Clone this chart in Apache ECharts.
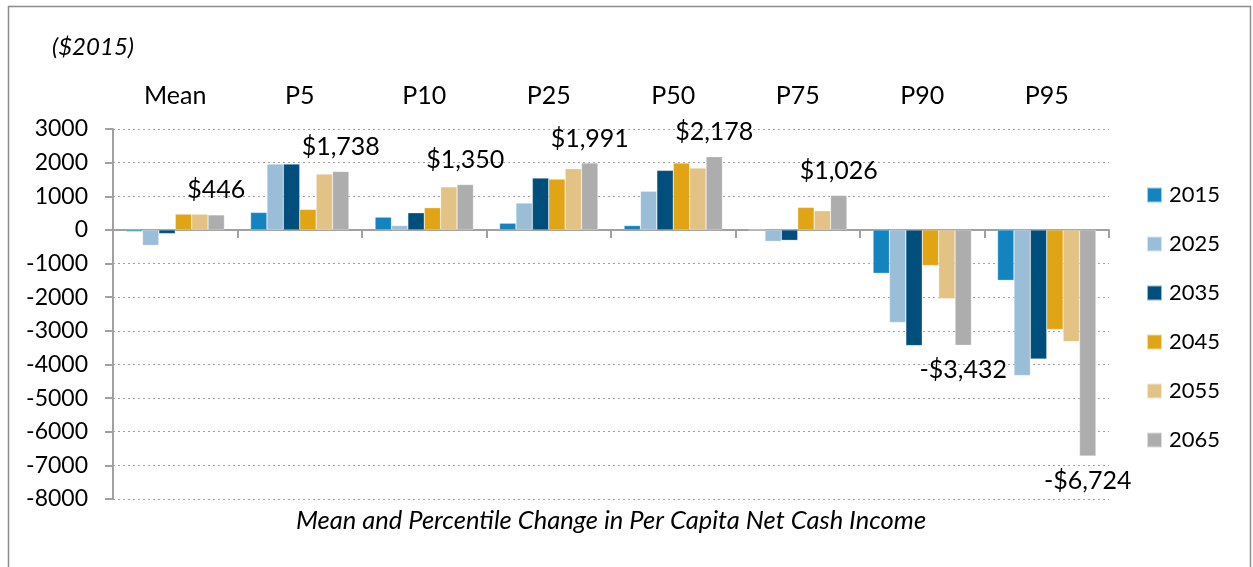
<!DOCTYPE html>
<html lang="en">
<head>
    <meta charset="utf-8">
    <title>Per Capita Net Cash Income</title>
    <style>
        body {
            margin: 0;
        }

        #ec {
            width: 1253px;
            height: 567px;
        }
    </style>
</head>
<body>
    <div id="ec"></div>
    <script src="https://cdn.jsdelivr.net/npm/echarts@6/dist/echarts.min.js"></script>
    <script>
        var categories = ['Mean', 'P5', 'P10', 'P25', 'P50', 'P75', 'P90', 'P95'];
        var years = ['2015', '2025', '2035', '2045', '2055', '2065'];

        var v2015 = [-50, 520, 380, 200, 130, 0, -1290, -1500];
        var v2025 = [-460, 1960, 130, 800, 1150, -340, -2750, -4330];
        var v2035 = [-110, 1960, 510, 1540, 1770, -310, -3440, -3840];
        var v2045 = [470, 610, 660, 1510, 1990, 670, -1060, -2960];
        var v2055 = [470, 1660, 1280, 1820, 1840, 570, -2050, -3320];
        var v2065 = [446, 1738, 1350, 1991, 2178, 1026, -3432, -6724];

        var yTicks = { min: -8000, max: 3000, interval: 1000 };

        (function() {
            'use strict';

            var font = 'Lato, "Open Sans", sans-serif';
            var colors = ['#1384c0', '#9bbed8', '#004e7c', '#e0a415', '#e3c385', '#adadad'];
            var values = [v2015, v2025, v2035, v2045, v2055, v2065];

            function money(v) {
                var s = Math.abs(v).toString().replace(/\B(?=(\d{3})+(?!\d))/g, ',');
                return (v < 0 ? '-$' : '$') + s;
            }

            var series = years.map(function(y, i) {
                var s = {
                    name: y,
                    type: 'bar',
                    xAxisIndex: 0,
                    data: values[i],
                    barGap: '0%',
                    barCategoryGap: '21%',
                    itemStyle: {
                        color: colors[i],
                        borderColor: 'rgba(255,255,255,0.6)',
                        borderWidth: 0.5
                    }
                };
                // only the last year carries value labels
                if (i === years.length - 1) {
                    s.label = {
                        show: true,
                        position: 'outside',
                        distance: 12,
                        fontFamily: font,
                        fontSize: 25,
                        color: '#000',
                        formatter: function(p) { return money(p.value); }
                    };
                }
                return s;
            });

            var opt = {
                animation: false,
                textStyle: { fontFamily: font },
                graphic: [
                    {
                        type: 'rect',
                        shape: { x: 8.5, y: 6.5, width: 1242, height: 620 },
                        style: { fill: 'none', stroke: '#8c8c8c', lineWidth: 1.5 },
                        silent: true
                    },
                    {
                        type: 'text',
                        style: {
                            x: 52, y: 47, text: '($2015)', textVerticalAlign: 'middle',
                            fontFamily: font, fontSize: 24, fontStyle: 'italic', fill: '#000'
                        }
                    },
                    {
                        type: 'text',
                        style: {
                            x: 611, y: 521, textAlign: 'center', textVerticalAlign: 'middle',
                            text: 'Mean and Percentile Change in Per Capita Net Cash Income',
                            fontFamily: font, fontSize: 25.5, fontStyle: 'italic', fill: '#000'
                        }
                    }
                ],
                legend: {
                    orient: 'vertical',
                    left: 1146,
                    top: 183,
                    padding: 0,
                    itemWidth: 15,
                    itemHeight: 15,
                    itemGap: 25,
                    icon: 'rect',
                    textStyle: { fontFamily: font, fontSize: 22, lineHeight: 24, color: '#000', padding: [0, 0, 0, 2] },
                    data: years
                },
                grid: {
                    left: 113,
                    right: 144,
                    top: 129,
                    bottom: 68
                },
                xAxis: [
                    {
                        type: 'category',
                        position: 'top',
                        data: categories,
                        axisLine: { show: false, onZero: false },
                        axisTick: { show: false },
                        axisLabel: { margin: 21, fontFamily: font, fontSize: 25, color: '#000' }
                    },
                    {
                        type: 'category',
                        position: 'bottom',
                        data: categories,
                        axisLine: { show: true, onZero: true, lineStyle: { color: '#a0a0a0', width: 2 } },
                        axisTick: { show: true, length: 8, lineStyle: { color: '#a0a0a0', width: 2 } },
                        axisLabel: { show: false }
                    }
                ],
                yAxis: {
                    type: 'value',
                    min: yTicks.min,
                    max: yTicks.max,
                    interval: yTicks.interval,
                    axisLine: { show: true, lineStyle: { color: '#a0a0a0', width: 2 } },
                    axisTick: { show: true, length: 8, lineStyle: { color: '#a0a0a0', width: 2 } },
                    axisLabel: {
                        margin: 25, fontFamily: font, fontSize: 23, color: '#000',
                        formatter: function(v) { return String(v); }
                    },
                    splitLine: { lineStyle: { color: '#a0a0a0', type: [2, 3], width: 1 } }
                },
                series: series
            };

            var chart = echarts.init(document.getElementById('ec'));
            chart.setOption(opt);
        }());
    </script>
</body>
</html>
